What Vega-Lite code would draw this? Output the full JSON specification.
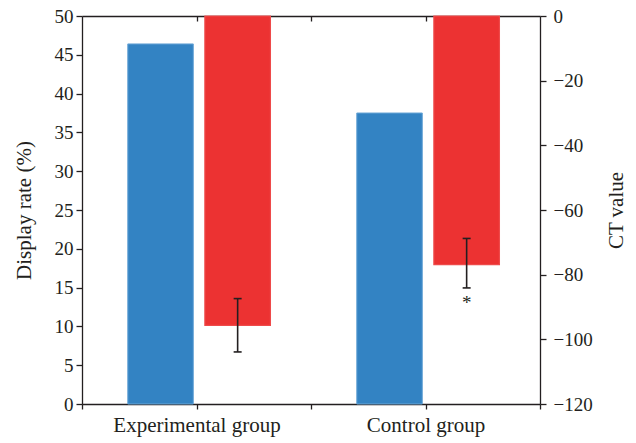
{
  "$schema": "https://vega.github.io/schema/vega-lite/v6.json",
  "width": 458,
  "height": 388,
  "autosize": {"type": "none"},
  "padding": {"left": 82, "top": 16, "right": 96, "bottom": 39},
  "background": "white",
  "config": {
    "view": {"stroke": null},
    "axis": {
      "labelFont": "Liberation Serif",
      "titleFont": "Liberation Serif",
      "labelFontSize": 19,
      "titleFontSize": 21,
      "titleFontWeight": "normal",
      "labelColor": "#231f20",
      "titleColor": "#231f20",
      "domainColor": "#231f20",
      "tickColor": "#231f20",
      "domainWidth": 1.3,
      "tickWidth": 1.3,
      "grid": false
    }
  },
  "datasets": {
    "bars": [
      {"group": "Experimental group", "series": "Display rate", "value": 46.4},
      {"group": "Experimental group", "series": "CT value", "value": -95.7, "lo": -103.9, "hi": -87.4, "sig": ""},
      {"group": "Control group", "series": "Display rate", "value": 37.5},
      {"group": "Control group", "series": "CT value", "value": -76.9, "lo": -84.1, "hi": -68.8, "sig": "*"}
    ],
    "groups": [
      {"idx": 1, "label": "Experimental group"},
      {"idx": 2, "label": "Control group"}
    ]
  },
  "resolve": {"scale": {"x": "independent", "y": "independent"}, "axis": {"x": "independent", "y": "independent"}},
  "layer": [
    {
      "data": {"name": "bars"},
      "transform": [{"filter": "datum.series === 'Display rate'"}],
      "mark": {"type": "bar", "color": "#3383c3", "stroke": "#6aa6d6", "strokeWidth": 1},
      "encoding": {
        "x": {"field": "group", "type": "nominal", "scale": {"domain": ["Experimental group", "Control group"], "paddingInner": 0, "paddingOuter": 0}, "axis": null},
        "xOffset": {"field": "series", "type": "nominal", "scale": {"domain": ["Display rate", "CT value"], "paddingInner": 0.15, "paddingOuter": 0.56, "align": 0.53}},
        "y": {"field": "value", "type": "quantitative", "scale": {"domain": [0, 50], "nice": false},
          "axis": {"orient": "left", "values": [0, 5, 10, 15, 20, 25, 30, 35, 40, 45, 50], "title": "Display rate (%)", "tickSize": 6, "labelPadding": 3, "titlePadding": 20}}
      }
    },
    {
      "data": {"name": "bars"},
      "transform": [{"filter": "datum.series === 'CT value'"}],
      "mark": {"type": "bar", "color": "#ec3232", "stroke": "#ee4a4a", "strokeWidth": 1.2},
      "encoding": {
        "x": {"field": "group", "type": "nominal", "scale": {"domain": ["Experimental group", "Control group"], "paddingInner": 0, "paddingOuter": 0}, "axis": null},
        "xOffset": {"field": "series", "type": "nominal", "scale": {"domain": ["Display rate", "CT value"], "paddingInner": 0.15, "paddingOuter": 0.56, "align": 0.53}},
        "y": {"field": "value", "type": "quantitative", "scale": {"domain": [-120, 0], "nice": false},
          "axis": {"orient": "right", "values": [0, -20, -40, -60, -80, -100, -120], "title": "CT value", "titleAngle": 270, "tickSize": 6, "labelPadding": 7, "titlePadding": 34}},
        "y2": {"datum": 0}
      }
    },
    {
      "data": {"name": "bars"},
      "transform": [{"filter": "datum.series === 'CT value'"}],
      "mark": {"type": "rule", "color": "#231f20", "strokeWidth": 1.6},
      "encoding": {
        "x": {"field": "group", "type": "nominal", "scale": {"domain": ["Experimental group", "Control group"], "paddingInner": 0, "paddingOuter": 0}, "axis": null},
        "xOffset": {"field": "series", "type": "nominal", "scale": {"domain": ["Display rate", "CT value"], "paddingInner": 0.15, "paddingOuter": 0.56, "align": 0.53}},
        "y": {"field": "lo", "type": "quantitative", "scale": {"domain": [-120, 0], "nice": false}, "axis": null},
        "y2": {"field": "hi"}
      }
    },
    {
      "data": {"name": "bars"},
      "transform": [{"filter": "datum.series === 'CT value'"}],
      "mark": {"type": "tick", "color": "#231f20", "thickness": 1.6, "size": 8, "opacity": 1},
      "encoding": {
        "x": {"field": "group", "type": "nominal", "scale": {"domain": ["Experimental group", "Control group"], "paddingInner": 0, "paddingOuter": 0}, "axis": null},
        "xOffset": {"field": "series", "type": "nominal", "scale": {"domain": ["Display rate", "CT value"], "paddingInner": 0.15, "paddingOuter": 0.56, "align": 0.53}},
        "y": {"field": "lo", "type": "quantitative", "scale": {"domain": [-120, 0], "nice": false}, "axis": null}
      }
    },
    {
      "data": {"name": "bars"},
      "transform": [{"filter": "datum.series === 'CT value'"}],
      "mark": {"type": "tick", "color": "#231f20", "thickness": 1.6, "size": 8, "opacity": 1},
      "encoding": {
        "x": {"field": "group", "type": "nominal", "scale": {"domain": ["Experimental group", "Control group"], "paddingInner": 0, "paddingOuter": 0}, "axis": null},
        "xOffset": {"field": "series", "type": "nominal", "scale": {"domain": ["Display rate", "CT value"], "paddingInner": 0.15, "paddingOuter": 0.56, "align": 0.53}},
        "y": {"field": "hi", "type": "quantitative", "scale": {"domain": [-120, 0], "nice": false}, "axis": null}
      }
    },
    {
      "data": {"name": "bars"},
      "transform": [{"filter": "datum.series === 'CT value'"}],
      "mark": {"type": "text", "color": "#231f20", "font": "Liberation Serif", "fontSize": 19, "baseline": "top", "dy": 6},
      "encoding": {
        "x": {"field": "group", "type": "nominal", "scale": {"domain": ["Experimental group", "Control group"], "paddingInner": 0, "paddingOuter": 0}, "axis": null},
        "xOffset": {"field": "series", "type": "nominal", "scale": {"domain": ["Display rate", "CT value"], "paddingInner": 0.15, "paddingOuter": 0.56, "align": 0.53}},
        "y": {"field": "lo", "type": "quantitative", "scale": {"domain": [-120, 0], "nice": false}, "axis": null},
        "text": {"field": "sig"}
      }
    },
    {
      "data": {"name": "groups"},
      "mark": {"type": "point", "opacity": 0},
      "encoding": {
        "x": {"field": "idx", "type": "quantitative", "scale": {"domain": [0.5, 2.5], "nice": false, "zero": false},
          "axis": {"orient": "bottom", "values": [0.5, 1, 1.5, 2, 2.5], "title": null, "labelFontSize": 21, "labelExpr": "datum.value == 1 ? 'Experimental group' : datum.value == 2 ? 'Control group' : ''", "labelFlush": false, "labelOverlap": false, "tickSize": 5, "labelPadding": 5}},
        "y": {"field": "idx", "type": "quantitative", "scale": {"domain": [0, 3]}, "axis": null}
      }
    },
    {
      "data": {"name": "groups"},
      "mark": {"type": "point", "opacity": 0},
      "encoding": {
        "x": {"field": "idx", "type": "quantitative", "scale": {"domain": [0.5, 2.5], "nice": false, "zero": false},
          "axis": {"orient": "top", "values": [1, 1.5, 2], "title": null, "labels": false, "tickSize": -5}},
        "y": {"field": "idx", "type": "quantitative", "scale": {"domain": [0, 3]}, "axis": null}
      }
    }
  ]
}
